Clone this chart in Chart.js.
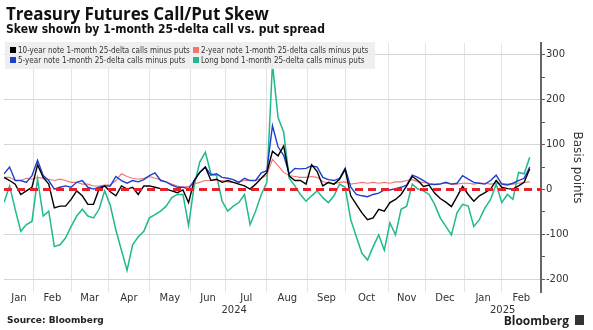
<!DOCTYPE html>
<html>
<head>
<meta charset="utf-8">
<script src="https://cdn.jsdelivr.net/npm/chart.js@4.4.1/dist/chart.umd.min.js"></script>
<style>
  body { margin: 0; background: #fff; font-family: "DejaVu Sans", sans-serif; }
  #wrap { position: relative; width: 593px; height: 330px; overflow: hidden; }
  #box { position: absolute; left: 0; top: 0; width: 593px; height: 330px; }
  .title { position: absolute; left: 6px; top: 2px; font: bold 17px "Open Sans", sans-serif; color: #111; letter-spacing: -0.1px; }
  .sub { position: absolute; left: 6px; top: 22px; font: bold 12px "DejaVu Sans Condensed", sans-serif; color: #111; }
  .legend { position: absolute; left: 5px; top: 42px; width: 370px; height: 27px; background: rgba(238,238,238,0.92);
            font: 8px "DejaVu Sans Condensed", sans-serif; color: #333; }
  .legend span { position: absolute; white-space: nowrap; }
  .legend i { display: inline-block; width: 6px; height: 6px; margin-right: 2px; vertical-align: 0px; }
  .source { position: absolute; left: 7px; top: 315px; font: bold 9px "DejaVu Sans", sans-serif; color: #222; }
  .logo { position: absolute; right: 24px; top: 312px; font: bold 12px "Open Sans", sans-serif; color: #222; }
  .logo-icon { position: absolute; right: 9px; top: 315px; width: 9px; height: 10px; background: #333; }
</style>
</head>
<body>
<div id="wrap">
  <div id="box"><canvas id="skewChart"></canvas></div>
  <div class="title">Treasury Futures Call/Put Skew</div>
  <div class="sub">Skew shown by 1-month 25-delta call vs. put spread</div>
  <div class="legend">
    <span style="left:5px;top:4px"><i style="background:#000"></i>10-year note 1-month 25-delta calls minus puts</span>
    <span style="left:188px;top:4px"><i style="background:#f07470"></i>2-year note 1-month 25-delta calls minus puts</span>
    <span style="left:5px;top:14px"><i style="background:#1e3fcc"></i>5-year note 1-month 25-delta calls minus puts</span>
    <span style="left:188px;top:14px"><i style="background:#1fb98f"></i>Long bond 1-month 25-delta calls minus puts</span>
  </div>
  <div class="source">Source: Bloomberg</div>
  <div class="logo">Bloomberg</div>
  <div class="logo-icon"></div>
</div>
<script>
// trading-day index of each sample (every third session from mid-Jan 2024)
const days = Array.from({ length: 95 }, (_, k) => k * 3);

const tenYear = [27, 20, 12, -11, -3, 5, 55, 27, 12, -41, -37, -37, -22, -3, -14, -33, -33, 1, 8, -5,
  -14, 8, 1, 5, -11, 8, 8, 5, 2, 1, -3, -7, -1, -29, 20, 38, 50, 20, 23,
  16, 20, 16, 12, 8, 1, 12, 25, 38, 85, 75, 97, 30, 20, 20, 12, 55, 40, 8,
  16, 12, 23, 45, -14, -33, -52, -67, -63, -44, -48, -29, -22, -11, 8, 29, 20, 7, 10, -8,
  -20, -28, -38, -16, 7, -11, -26, -14, -7, 1, 20, 5, 2, 1, 8, 16, 46];

const twoYear = [27, 27, 20, 20, 25, 23, 27, 25, 23, 20, 23, 20, 16, 16, 12, 12, 8, 8, 10, 10,
  20, 35, 29, 25, 23, 25, 29, 25, 22, 16, 12, 8, 5, 7, 12, 16, 20, 20, 20,
  20, 17, 16, 17, 20, 20, 20, 25, 32, 67, 53, 38, 31, 29, 27, 27, 29, 27, 18,
  14, 12, 16, 17, 12, 14, 16, 14, 16, 14, 16, 14, 17, 17, 20, 22, 17, 16, 14, 12,
  14, 14, 12, 12, 14, 14, 12, 14, 14, 12, 14, 14, 12, 12, 14, 16, 17];

const fiveYear = [35, 50, 20, 20, 16, 31, 65, 31, 20, 1, 5, 8, 5, 16, 20, 5, 1, 5, 8, 8,
  29, 20, 14, 20, 17, 22, 31, 37, 20, 17, 10, 5, 5, 2, 20, 38, 50, 32, 35,
  27, 25, 22, 16, 25, 20, 20, 37, 42, 142, 95, 76, 35, 47, 46, 47, 53, 50, 27,
  22, 20, 25, 47, 5, -11, -14, -16, -11, -8, -1, -1, 2, 5, 10, 32, 27, 20, 12, 11,
  12, 16, 12, 14, 31, 23, 16, 14, 12, 20, 32, 12, 10, 14, 20, 25, 50];

const longBond = [-29, 8, -44, -93, -78, -71, 23, -59, -48, -127, -123, -108, -82, -59, -44, -59, -63, -44, -3, -35,
  -90, -135, -180, -123, -105, -93, -63, -56, -48, -37, -18, -11, -11, -80, 8, 61, 83, 35, 31,
  -26, -48, -37, -29, -11, -78, -48, -11, 16, 279, 160, 128, 25, 8, -11, -26, -14, -3, -18,
  -29, -14, 12, 5, -67, -105, -142, -157, -127, -101, -135, -74, -101, -44, -37, 12, 1, -3, -11, -33,
  -63, -82, -101, -52, -33, -37, -82, -67, -41, -22, 12, -29, -11, -22, 38, 35, 72];

// month boundaries in trading days, month and year labels
const monthStarts = [0, 16, 36, 56, 78, 100, 119, 141, 163, 183, 206, 226, 247, 267, 288];
const monthNames = ['Jan', 'Feb', 'Mar', 'Apr', 'May', 'Jun', 'Jul', 'Aug', 'Sep', 'Oct', 'Nov', 'Dec', 'Jan', 'Feb'];
const yearStarts = [0, 247, 288];
const yearNames = ['2024', '2025'];
const yTicks = [-200, -150, -100, -50, 0, 50, 100, 150, 200, 250, 300];

const pts = arr => arr.map((v, k) => ({ x: days[k], y: v }));
const monthMid = monthNames.map((_, k) => (monthStarts[k] + monthStarts[k + 1]) / 2);
const yearMid = yearNames.map((_, k) => (yearStarts[k] + yearStarts[k + 1]) / 2);
const inner = monthStarts.slice(1, -1);
const major = v => v % 100 === 0;

const line = (data, color, width, order) => ({
  data: pts(data), borderColor: color, borderWidth: width, pointRadius: 0, tension: 0, order: order
});

const skewChart = new Chart(document.getElementById('skewChart').getContext('2d'), {
  type: 'line',
  data: {
    datasets: [
      { data: [{ x: 0, y: 0 }, { x: 288, y: 0 }], borderColor: '#e5222b', borderWidth: 3, borderDash: [8, 5], pointRadius: 0, order: 0 },
      line(tenYear, '#000000', 1.4, 1),
      line(fiveYear, '#1e3fcc', 1.4, 2),
      line(twoYear, '#f07470', 1.1, 3),
      line(longBond, '#1fb98f', 1.5, 4)
    ]
  },
  options: {
    responsive: true,
    maintainAspectRatio: false,
    animation: false,
    layout: { padding: { top: 43, left: 4, right: 5, bottom: 14 } },
    plugins: { legend: { display: false }, tooltip: { enabled: false } },
    scales: {
      x: {
        type: 'linear', min: 0, max: 288, position: 'bottom',
        afterBuildTicks: axis => {
          axis.ticks = inner.concat(monthMid).sort((a, b) => a - b).map(v => ({ value: v }));
        },
        ticks: {
          autoSkip: false, maxRotation: 0, padding: 0, color: '#333',
          font: { family: 'DejaVu Sans', size: 10 },
          callback: v => { const k = monthMid.indexOf(v); return k >= 0 ? monthNames[k] : ''; }
        },
        grid: { color: c => (c.tick && inner.includes(c.tick.value)) ? '#e4e4e4' : 'rgba(0,0,0,0)', drawTicks: false },
        border: { display: false }
      },
      x2: {
        type: 'linear', min: 0, max: 288, position: 'bottom',
        afterBuildTicks: axis => { axis.ticks = yearMid.map(v => ({ value: v })); },
        ticks: {
          autoSkip: false, maxRotation: 0, padding: 0, color: '#333',
          font: { family: 'DejaVu Sans', size: 10 },
          callback: v => yearNames[yearMid.indexOf(v)]
        },
        grid: { display: false, drawTicks: false },
        border: { display: false }
      },
      y: {
        position: 'right', min: -228, max: 326,
        afterBuildTicks: axis => { axis.ticks = yTicks.map(v => ({ value: v })); },
        ticks: { color: '#333', padding: 1, font: { family: 'DejaVu Sans', size: 10 }, callback: v => major(v) ? v : '' },
        grid: {
          color: c => (c.tick && major(c.tick.value) && c.tick.value !== 0) ? '#d6d6d6' : 'rgba(0,0,0,0)',
          borderDash: [2, 2], tickColor: '#555', tickLength: 4, tickBorderDash: []
        },
        border: { display: true, color: '#666', width: 2 },
        title: { display: true, text: 'Basis points', color: '#333', font: { family: 'DejaVu Sans', size: 12 }, padding: { top: 4, bottom: 0 } }
      }
    }
  }
});
</script>
</body>
</html>
